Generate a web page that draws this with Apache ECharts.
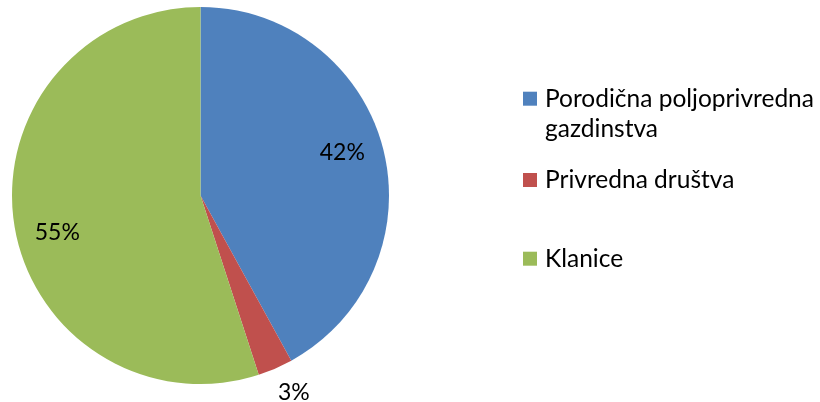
<!DOCTYPE html>
<html><head><meta charset="utf-8">
<script src="https://cdn.jsdelivr.net/npm/echarts@6/dist/echarts.min.js"></script>
<style>html,body{margin:0;padding:0;background:#fff}#c{width:820px;height:402px}</style>
</head><body><div id="c"></div>
<script>
const categories = ['Porodična poljoprivredna gazdinstva', 'Privredna društva', 'Klanice'];
const values = [42, 3, 55];
const colors = ['#4F81BD', '#C0504D', '#9BBB59'];
const legendLabels = ['\nPorodična poljoprivredna\ngazdinstva', 'Privredna društva', 'Klanice'];

const FONT = 'Lato';
const center = [200.5, 195.5];
const R = 188.5;
const labelShift = [[-2.5, -6], [6, -5], [4, 14]];
const data = categories.map((n, i) => ({ name: n, value: values[i], itemStyle: { color: colors[i] } }));

const chart = echarts.init(document.getElementById('c'), null, { renderer: 'canvas' });
const legendIconY = [98.7, 180, 258.7];
const LH = 30;
chart.setOption({
  animation: false,
  backgroundColor: '#fff',
  legend: categories.map((n, i) => ({
    left: 523, top: legendIconY[i] - (i === 0 ? 1.5 * LH : 0.5 * LH), padding: 0, orient: 'vertical',
    itemWidth: 14, itemHeight: 14, selectedMode: false,
    icon: 'rect',
    data: [{ name: n, itemStyle: { color: colors[i] } }],
    formatter: () => legendLabels[i],
    textStyle: { fontFamily: FONT, fontSize: 24.5, color: '#000', lineHeight: LH, padding: [0, 0, 0, 3] }
  })),
  series: [
    {
      type: 'pie', center: center, radius: R, startAngle: 90, clockwise: true,
      label: { show: false }, labelLine: { show: false }, silent: true,
      data: data
    },
    {
      type: 'pie', center: center, radius: [103.5, R], startAngle: 90, clockwise: true, silent: true,
      itemStyle: { color: 'rgba(0,0,0,0)' }, labelLine: { show: false },
      label: { show: true, position: 'inside', formatter: '{d}%', fontFamily: FONT, fontSize: 23, color: '#000' },
      labelLayout: p => ({ dx: labelShift[p.dataIndex][0], dy: labelShift[p.dataIndex][1] }),
      data: categories.map((n, i) => ({ name: n, value: values[i], itemStyle: { color: 'rgba(0,0,0,0)' }, label: { show: i !== 1 } }))
    },
    {
      type: 'pie', center: center, radius: [206, 228], startAngle: 90, clockwise: true, silent: true,
      itemStyle: { color: 'rgba(0,0,0,0)' }, labelLine: { show: false },
      label: { show: true, position: 'inside', formatter: '{d}%', fontFamily: FONT, fontSize: 23, color: '#000' },
      labelLayout: p => ({ dx: labelShift[p.dataIndex][0], dy: labelShift[p.dataIndex][1] }),
      data: categories.map((n, i) => ({ name: n, value: values[i], itemStyle: { color: 'rgba(0,0,0,0)' }, label: { show: i === 1 } }))
    }
  ]
});
</script></body></html>
